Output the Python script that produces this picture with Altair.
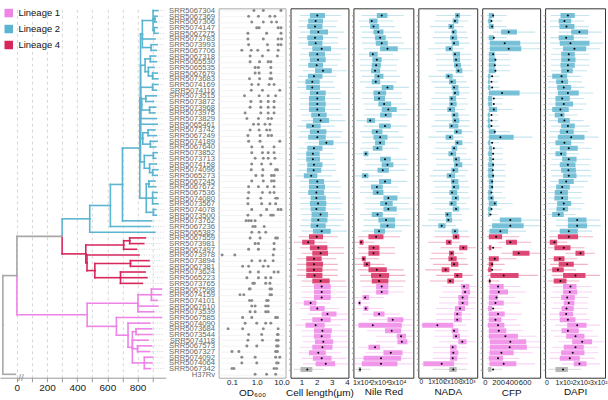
import altair as alt
import pandas as pd

# ---------------- data ----------------
strains = ["SRR5067304","SRR5067369","SRR5067306","SRR5074147","SRR5067275","SRR5073783","SRR5073993","SRR5067706","SRR5067318","SRR5065530",
           "SRR5065535","SRR5067679","SRR5073683","SRR5074169","SRR5074116","SRR5073515","SRR5073872","SRR5073968","SRR5073975","SRR5073829",
           "SRR5065461","SRR5073742","SRR5067249","SRR5074189","SRR5067640","SRR5073852","SRR5073713","SRR5074158","SRR5074096","SRR5065273",
           "SRR5067245","SRR5067672","SRR5067536","SRR5074080","SRR5073567","SRR5074078","SRR5073500","SRR5073762","SRR5067236","SRR5065382",
           "SRR5067559","SRR5073981","SRR5067497","SRR5073978","SRR5073894","SRR5067381","SRR5073624","SRR5065223","SRR5073765",
           "SRR5067598","SRR5074159","SRR5074101","SRR5067610","SRR5073539","SRR5067585","SRR5074090","SRR5073684","SRR5073544","SRR5074118",
           "SRR5067573","SRR5067327","SRR5074092","SRR5074064","SRR5067342","H37Rv"]
lineages = ["Lineage 2"] * 40 + ["Lineage 4"] * 9 + ["Lineage 1"] * 15 + ["H37Rv"]
rows = list(range(1, 66))

lin_names = ["Lineage 1", "Lineage 2", "Lineage 4", "H37Rv"]
lin_colors = ["#EE84E6", "#5CB5D0", "#D7265B", "#A8A8A8"]

# tree: tip distances of each leaf (row order) and nested internal nodes (distance, children)
tip_x = [935,930,925,930,935,915,930,925,920,925, 910,930,935,935,925,925,905,920,915,925,
         930,915,925,930,920,930,920,925,935,930, 915,920,930,925,935,920,925,892,885,915,
         852,841,793,810,876,880,850,862,832,
         958,955,930,934,907,958,881,892,895,870,892,880,900,895,885,
         -10]
blue_clade = (483, [(620, [(700, [(815, [
    (820, [
        (832, [(903, [1, (915, [2, 3]), (910, [4, 5])]), 6, (890, [7, 8])]),
        (850, [(885, [9, 10]), (872, [11, (900, [12, 13])])]),
        (900, [14, 15]),
        (828, [(855, [16, 17]), (880, [18, 19])]),
        20, 21,
        (835, [(870, [22, 23]), (885, [24, 25])]),
        (845, [(905, [26, 27]), (880, [28, (900, [29, 30])])]),
    ]),
    (858, [(875, [31, 32]), (900, [33, 34, 35]), (905, [36, 37])]),
]), 38]), 39]), 40])
red_clade = (457, [(708, [(748, [41, 42]), 43]),
                   (465, [44, (517, [(753, [45, 46]), (687, [47, 48, 49])])])])
pink_clade = (466, [(803, [(892, [50, 51, 52]), 53, 54]),
                    (660, [55, (737, [56, (766, [(790, [57, 58]), 59, (800, [60, 61]), (845, [62, 63, 64])])])])])
tree = (-93, [(0, [(300, [blue_clade, red_clade]), pink_clade]), 65])
tip_align = 975
break_mark = [28]

# OD600 replicate points
od_pts = [
    [0.77, 1.84, 9.5], [0.47, 1.17, 3.4, 5.4], [0.63, 1.84, 3.95, 6.3], [1.0, 1.25, 7.3, 9.5],
    [0.44, 2.5, 9.5], [0.44, 1.84, 7.3, 10.0], [0.47, 2.7, 7.3, 9.5], [0.25, 0.6, 1.1, 2.9, 7.3],
    [0.54, 1.7, 6.8], [0.54, 1.3, 2.9, 3.7], [0.86, 1.17, 3.7], [0.86, 1.25, 3.7],
    [0.51, 1.3, 3.4, 3.95], [0.63, 1.17, 3.15, 5.0], [0.6, 1.7, 8.5], [0.32, 1.25, 2.9, 5.8],
    [0.58, 1.46, 2.9, 5.0], [0.54, 1.46, 2.9, 5.0], [0.34, 1.46, 2.9, 5.0], [0.4, 1.17, 2.9, 3.95],
    [0.74, 1.17, 2.15, 3.4], [0.54, 1.25, 2.5, 3.4], [0.44, 1.36, 2.9, 3.95], [0.47, 1.36, 8.5],
    [0.63, 1.7, 5.0], [0.63, 1.7, 2.9, 5.0], [0.86, 1.84, 2.9, 5.4], [0.63, 1.58, 3.7],
    [0.6, 1.77, 5.8, 6.8], [0.92, 1.7, 3.95, 5.0], [0.63, 1.84, 3.95, 5.0], [0.47, 1.17, 2.7, 5.0],
    [0.47, 1.7, 3.4, 5.0], [0.44, 1.46, 5.8, 6.8], [0.44, 1.58, 3.4, 5.8], [0.63, 2.5, 7.3, 9.5],
    [0.44, 1.46, 3.7, 4.6], [0.37, 0.47, 0.6, 0.86], [0.7, 0.86, 2.0], [0.63, 1.25, 2.3],
    [0.54, 1.36, 5.8, 6.8], [0.86, 1.17, 5.0], [0.47, 1.17, 5.0], [0.04, 0.13, 4.6],
    [0.63, 1.36, 2.15, 4.6], [0.27, 0.47, 1.84, 2.9], [0.54, 1.17, 5.0, 7.3], [0.4, 1.17, 2.3, 3.7],
    [0.7, 0.8, 2.3, 3.4], [0.5, 0.54, 3.4, 3.95], [0.21, 0.3, 3.4, 3.95], [0.51, 0.63, 2.5, 2.9],
    [0.63, 0.86, 2.3, 2.9], [0.54, 0.86, 2.3, 2.9], [0.27, 0.63, 5.8, 6.8], [0.34, 1.0, 2.3, 3.7],
    [0.07, 0.27, 1.84, 7.3], [0.47, 1.58, 6.8, 7.3], [0.44, 1.7, 6.3, 7.3], [0.4, 1.0, 6.3, 7.3],
    [0.1, 0.19, 5.8, 6.8], [0.25, 0.86, 5.8, 8.5], [0.25, 1.0, 6.3, 7.3], [0.1, 0.12, 5.0, 6.3],
    [0.86, 2.5, 5.8],
]

# Cell length (um)
cell_lo = [0.9,0.8,0.8,0.9,0.8,0.8,1.0,0.9,0.9,0.8, 1.1,0.8,0.7,0.7,0.9,0.9,0.9,0.9,1.0,1.0,
           0.7,0.9,0.8,1.2,0.8,0.7,0.7,0.8,0.8,0.6, 0.9,0.9,0.8,0.9,0.9,0.9,1.0,1.0,0.9,1.0,
           0.8,0.5,0.9,1.0,0.7,0.7,0.7,0.7,1.0, 1.0,1.0,1.0,0.6,0.9,1.4,1.0,0.6,1.0,1.0,1.1,0.9,0.8,1.0,1.1, 0.5]
cell_q1 = [1.55,1.44,1.38,1.55,1.38,1.44,1.71,1.49,1.55,1.44, 1.89,1.42,1.26,1.31,1.55,1.49,1.49,1.49,1.64,1.75,
           1.31,1.55,1.44,2.15,1.38,1.31,1.31,1.38,1.35,1.15, 1.49,1.49,1.44,1.60,1.55,1.60,1.66,1.64,1.60,1.75,
           1.49,1.04,1.55,1.71,1.31,1.31,1.31,1.31,1.71, 1.82,1.82,1.82,1.15,1.55,2.33,1.71,1.26,1.82,1.82,1.89,1.71,1.49,1.75,1.93, 0.93]
cell_mean = [2.04,1.93,1.89,2.11,1.89,1.93,2.33,2.04,2.09,2.00, 2.42,1.82,1.71,1.71,2.04,2.04,2.04,2.04,2.15,2.26,
             1.75,2.09,2.04,2.64,1.82,1.75,1.75,1.82,1.80,1.64, 2.04,2.04,1.98,1.98,2.09,1.98,2.26,2.11,2.04,2.33,
             2.00,1.44,2.11,2.26,1.82,1.82,1.82,1.86,2.26, 2.33,2.33,2.33,1.60,2.04,2.71,2.33,1.93,2.38,2.33,2.44,2.38,2.11,2.33,2.60, 1.38]
cell_q3 = [2.55,2.42,2.38,2.75,2.42,2.38,2.95,2.55,2.60,2.42, 3.00,2.38,2.20,2.22,2.60,2.55,2.60,2.55,2.66,2.82,
           2.26,2.64,2.60,3.11,2.38,2.20,2.22,2.38,2.30,2.04, 2.49,2.55,2.49,2.60,2.64,2.60,2.75,2.71,2.60,2.93,
           2.42,1.86,2.71,2.75,2.33,2.42,2.38,2.38,2.86, 2.93,2.93,2.93,1.98,2.53,3.31,2.93,2.53,3.00,2.93,3.09,3.04,2.60,2.98,3.22, 1.71]
cell_hi = [3.6,3.4,3.3,3.8,3.4,3.4,4.0,3.6,3.6,3.4, 4.0,3.3,3.1,3.2,3.6,3.6,3.6,3.6,3.7,3.9,
           3.2,3.7,3.6,4.1,3.3,3.1,3.2,3.3,3.3,3.0, 3.5,3.6,3.5,3.6,3.7,3.6,3.8,3.8,3.6,4.0,
           3.4,2.7,3.8,3.8,3.3,3.4,3.4,3.4,3.9, 4.0,4.0,4.0,2.9,3.5,4.1,4.0,3.6,4.1,4.0,4.1,4.1,3.6,4.0,4.1, 2.5]

# Nile Red (x10^4)
nile_lo = [1.0,0.8,0.9,1.0,1.0,1.0,1.1,0.8,0.9,0.9, 0.9,1.0,0.9,1.2,1.0,1.0,1.1,1.2,1.1,0.7,
           1.1,0.9,1.0,1.0,0.9,0.6,1.1,1.2,1.0,0.6, 1.1,0.9,0.9,1.2,1.1,1.2,0.9,1.1,1.1,1.0,
           0.8,0.6,0.8,0.8,0.6,0.6,0.8,0.9,0.9, 1.0,1.0,0.6,0.55,0.6,1.0,1.4,0.55,1.3,1.8,1.8,0.8,1.2,0.6,0.55, 0.55]
nile_q1 = [1.86,1.42,1.48,1.67,1.76,1.80,2.05,1.42,1.61,1.57, 1.53,1.72,1.57,2.14,1.67,1.70,1.95,2.14,2.05,1.29,
           1.99,1.57,1.67,1.76,1.63,1.10,2.05,2.14,1.90,1.00, 1.99,1.53,1.63,2.24,2.05,2.24,1.57,1.95,2.05,1.70,
           1.38,0.87,1.38,1.38,1.00,1.10,1.38,1.53,1.57, 1.82,1.82,1.04,0.81,1.10,1.67,2.47,0.81,2.33,3.00,3.04,1.38,2.24,1.10,1.00, 0.81]
nile_mean = [2.14,1.57,1.67,1.95,2.05,2.14,2.47,1.63,1.86,1.82, 1.76,1.95,1.80,2.47,1.99,1.99,2.28,2.52,2.37,1.48,
             2.33,1.86,2.05,2.05,1.90,1.23,2.33,2.47,2.20,1.19, 2.33,1.86,1.90,2.52,2.39,2.52,1.90,2.39,2.47,1.99,
             1.82,0.96,1.67,1.67,1.10,1.29,1.86,2.05,1.99, 2.14,2.14,1.19,0.87,1.23,1.99,2.77,1.63,2.71,3.25,3.29,1.76,2.66,2.10,2.10, 0.90]
nile_q3 = [2.47,1.90,1.99,2.24,2.37,2.49,3.06,1.91,2.14,2.09, 2.05,2.24,2.05,2.81,2.39,2.33,2.68,3.00,2.71,1.76,
           2.66,2.18,2.47,2.33,2.18,1.38,2.66,2.81,2.55,1.38, 2.68,2.20,2.24,3.04,2.77,3.00,2.20,2.90,2.90,2.33,
           2.24,1.10,2.01,2.01,1.23,1.48,2.43,2.56,2.52, 2.52,2.52,1.42,0.94,1.38,2.30,3.38,3.29,3.25,3.53,3.61,2.05,3.33,3.25,3.04, 0.96]
nile_hi = [3.4,2.8,2.9,3.2,3.3,3.4,3.9,2.8,3.1,3.0, 3.0,3.2,3.0,3.7,3.3,3.3,3.6,3.9,3.6,2.6,
           3.6,3.1,3.4,3.3,3.1,2.1,3.6,3.7,3.5,2.2, 3.6,3.1,3.2,3.9,3.7,3.9,3.1,3.8,3.8,3.3,
           3.2,1.7,2.9,2.9,2.0,2.3,3.4,3.5,3.5, 3.4,3.4,2.3,1.5,2.2,3.2,3.9,3.9,3.9,3.9,3.9,2.9,3.9,3.9,3.9, 1.5]

# NADA (x10^3)
nada_lo = [1.0,0.9,0.6,0.9,0.8,0.9,0.5,0.9,1.0,1.0, 1.1,0.5,0.7,0.9,0.9,0.7,0.7,0.6,0.9,0.9,
           0.7,1.0,0.5,1.0,0.9,0.7,1.0,1.0,0.8,0.6, 0.8,0.9,0.7,0.9,0.7,0.9,0.5,0.5,0.1,0.9,
           0.9,0.5,1.3,0.7,0.6,0.8,0.3,1.0,0.6, 1.4,1.4,1.2,1.2,1.0,1.0,1.0,0.0,0.9,0.9,1.2,0.8,0.8,0.8,0.0, 0.8]
nada_q1 = [2.24,2.09,1.81,2.02,1.92,2.02,1.63,2.09,2.13,2.18, 2.29,1.63,1.85,2.02,2.09,1.87,1.87,1.74,2.02,2.07,
           1.85,2.18,1.63,2.24,2.02,1.81,2.13,2.18,2.00,1.70, 1.98,2.02,1.87,2.02,1.87,2.09,1.59,1.65,1.15,2.02,
           2.09,1.65,2.52,1.85,1.81,1.98,1.37,2.18,1.74, 2.63,2.68,2.46,2.46,2.24,2.18,2.18,0.10,2.02,2.09,2.46,1.92,1.92,1.92,0.17, 1.87]
nada_mean = [2.40,2.24,1.98,2.13,2.09,2.18,1.92,2.24,2.31,2.35, 2.46,1.81,2.02,2.18,2.24,2.02,2.02,1.92,2.18,2.24,
             2.02,2.35,1.92,2.40,2.18,2.02,2.31,2.35,2.15,1.92, 2.13,2.18,2.05,2.30,2.02,2.31,1.74,1.81,1.37,2.24,
             2.31,1.87,2.79,2.02,2.02,2.18,1.63,2.39,1.92, 2.83,2.90,2.74,2.74,2.57,2.39,2.39,1.09,2.18,2.31,2.72,2.09,2.13,2.09,1.37, 2.13]
nada_q3 = [2.57,2.46,2.18,2.35,2.39,2.50,2.09,2.57,2.57,2.63, 2.72,2.09,2.31,2.46,2.52,2.31,2.35,2.24,2.46,2.52,
           2.46,2.68,2.13,2.72,2.39,2.31,2.57,2.72,2.45,2.24, 2.46,2.52,2.39,2.50,2.35,2.52,2.02,2.05,1.63,2.46,
           2.52,2.02,3.05,2.18,2.35,2.46,1.87,2.72,2.18, 3.18,3.22,3.11,3.11,2.90,2.68,2.68,2.13,2.46,2.57,3.00,2.35,2.46,2.39,2.18, 2.35]
nada_hi = [3.3,3.1,2.8,3.0,3.1,3.2,2.8,3.3,3.3,3.3, 3.4,2.8,3.0,3.2,3.2,3.0,3.1,2.9,3.2,3.2,
           3.2,3.4,2.8,3.4,3.0,3.0,3.3,3.4,3.1,2.9, 3.1,3.2,3.1,3.2,3.0,3.2,2.7,2.7,2.3,3.1,
           3.2,2.6,3.6,2.8,3.0,3.1,2.5,3.4,2.8, 3.6,3.6,3.6,3.6,3.5,3.3,3.3,3.0,3.1,3.2,3.6,3.0,3.1,3.0,3.1, 3.0]

# CFP
cfp_lo = [30,25,30,120,30,35,35,30,30,30, 30,25,25,25,30,25,25,30,20,20,
          20,30,30,25,30,25,30,25,25,25, 30,30,25,25,30,25,25,110,50,35,
          30,200,30,250,30,30,25,40,30, 35,35,30,30,25,30,30,20,30,30,35,35,35,30,35, 25]
cfp_q1 = [60,50,60,245,60,75,75,60,60,60, 60,50,50,50,60,50,50,60,45,45,
          45,60,60,50,60,50,60,50,50,50, 60,60,50,50,60,50,50,225,110,70,
          60,320,60,420,60,60,50,85,60, 70,70,60,60,50,60,60,45,60,60,75,75,70,60,70, 50]
cfp_mean = [125,100,110,360,135,300,360,125,160,150, 160,110,100,110,260,135,135,135,100,100,
            100,150,235,110,135,125,125,125,120,125, 110,110,100,100,150,100,85,385,385,235,
            170,385,125,510,150,110,110,285,75, 200,210,175,160,125,200,160,200,210,310,385,375,250,200,285, 125]
cfp_q3 = [135,100,135,485,135,535,550,150,160,160, 160,85,75,85,525,110,110,185,75,75,
          85,160,435,85,110,110,110,135,120,135, 125,125,100,135,185,100,75,550,585,350,
          260,485,100,675,210,125,100,510,85, 285,350,200,285,110,300,250,295,325,500,625,635,435,275,475, 100]
cfp_hi = [330,260,330,760,330,830,830,360,380,380, 380,220,200,220,830,270,270,420,200,200,
          220,380,720,220,270,270,270,320,300,320, 300,300,260,320,420,260,200,830,830,620,
          520,700,260,835,480,300,260,800,220, 540,620,460,540,270,560,480,540,580,780,835,835,720,520,760, 260]

# DAPI
dapi_lo = [25,20,20,70,20,20,35,25,25,25, 25,5,10,10,15,10,10,5,10,15,
           25,20,15,10,20,10,30,20,25,30, 20,10,10,10,10,10,5,55,55,20,
           15,0,10,110,10,20,5,30,10, 35,35,25,40,30,20,20,50,25,45,70,35,20,20,90, 10]
dapi_q1 = [81,71,75,143,71,77,96,85,85,81, 85,33,56,62,66,52,52,33,48,66,
           85,77,66,52,77,52,91,77,85,96, 71,56,48,46,62,58,33,124,124,77,
           66,19,46,168,42,71,33,96,42, 96,96,85,100,87,75,77,120,87,114,149,100,85,77,158, 52]
dapi_mean = [124,104,116,191,114,139,162,129,129,124, 124,87,91,100,124,91,100,81,87,104,
             124,120,143,104,129,85,129,124,127,129, 114,91,85,91,100,100,71,178,178,129,
             129,46,100,197,77,120,66,168,81, 139,135,120,129,116,114,124,178,124,168,207,168,152,135,191, 96]
dapi_q3 = [164,143,162,241,158,249,230,164,168,164, 152,120,125,143,187,135,154,129,104,135,
           164,158,220,143,181,116,174,168,170,174, 158,135,124,125,143,125,100,232,235,181,
           183,62,139,220,104,158,100,226,116, 174,178,164,162,158,154,168,232,187,220,264,216,220,193,232, 124]
dapi_hi = [250,220,245,320,240,330,310,250,250,250, 235,200,205,220,270,215,235,210,180,215,
           250,240,300,220,260,190,260,250,255,260, 240,215,205,205,220,205,170,310,315,265,
           270,120,220,280,180,240,170,310,190, 260,265,245,240,240,235,250,310,270,300,335,300,300,280,310, 200]

# ---------------- build tree segments ----------------
segs = []


def walk(node):
    if isinstance(node, int):
        return float(node), [node]
    nx, kids = node
    info = [walk(k) for k in kids]
    ys = [i[0] for i in info]
    ny = (min(ys) + max(ys)) / 2
    leaves = []
    for k, (ky, kl) in zip(kids, info):
        leaves += kl
        kx = tip_x[k - 1] if isinstance(k, int) else k[0]
        lins = {lineages[l - 1] for l in kl}
        col = lins.pop() if len(lins) == 1 else "H37Rv"
        segs.append(dict(x=nx, x2=nx, y=ny, y2=ky, lin=col))
        segs.append(dict(x=nx, x2=kx, y=ky, y2=ky, lin=col))
    return ny, leaves


walk(tree)
seg_df = pd.DataFrame(segs)
dot_df = pd.DataFrame({"x": tip_x[:64], "x2": [tip_align] * 64, "y": rows[:64]})
brk_df = pd.DataFrame({"x": break_mark, "y": [65.6]})

FONT = "Liberation Sans"
H = 370
yscale = alt.Scale(domain=[0.6, 65.6], reverse=True, nice=False, zero=False)
color_scale = alt.Scale(domain=lin_names, range=lin_colors)

tree_x = alt.Scale(domain=[-112, 987], nice=False, zero=False)
tree_ax = alt.Axis(values=list(range(0, 1000, 100)),
                   labelExpr="datum.value % 200 == 0 ? datum.label : ''",
                   grid=True, gridDash=[3, 3], gridColor="#d6d6d6", domainColor="#999",
                   tickColor="#999", tickSize=4, labelFontSize=10, labelPadding=1,
                   labelColor="#222", labelFlush=False, title=None)
dotted = alt.Chart(dot_df).mark_rule(strokeDash=[1, 1.5], strokeWidth=0.7, color="#c4c4c4").encode(
    x=alt.X("x:Q", scale=tree_x, axis=tree_ax),
    x2="x2:Q",
    y=alt.Y("y:Q", scale=yscale, axis=None),
)
branches = alt.Chart(seg_df).mark_rule(strokeWidth=1.6, strokeCap="square").encode(
    x=alt.X("x:Q", scale=tree_x, axis=tree_ax), x2="x2:Q", y=alt.Y("y:Q", scale=yscale, axis=None), y2="y2:Q",
    color=alt.Color("lin:N", scale=color_scale,
                    legend=alt.Legend(title=None, orient="none", legendX=4, legendY=0,
                                      values=["Lineage 1", "Lineage 2", "Lineage 4"],
                                      symbolType="square", symbolSize=16, symbolStrokeWidth=4.5,
                                      labelFontSize=9.5, labelColor="#111", labelOffset=5,
                                      rowPadding=-9.5, padding=0)),
)
brk = alt.Chart(brk_df).mark_text(text="//", fontSize=10, color="#888").encode(
    x=alt.X("x:Q", scale=tree_x, axis=tree_ax), y=alt.Y("y:Q", scale=yscale, axis=None))
tree_chart = alt.layer(dotted, branches, brk).properties(
    width=166, height=H, view=alt.ViewBackground(strokeOpacity=0))

# ---------------- OD panel ----------------
od_df = pd.DataFrame([{"row": i + 1, "od": v} for i, vals in enumerate(od_pts) for v in vals])
name_expr = "[" + ",".join("'" + s + "'" for s in strains) + "][datum.value - 1]"
od_chart = alt.Chart(od_df).mark_circle(size=9, color="#8a8a8a", opacity=1).encode(
    x=alt.X("od:Q", scale=alt.Scale(type="log", domain=[0.029, 14.5], nice=False),
            axis=alt.Axis(values=[0.1, 1, 10], labelExpr="format(datum.value, '.1f')", title="OD₆₀₀",
                          ticks=False, grid=False, domain=False, labelPadding=1, titlePadding=1,
                          labelFontSize=8, labelFlush=False, labelOverlap=False)),
    y=alt.Y("row:Q", scale=yscale,
            axis=alt.Axis(values=rows, labelExpr=name_expr, ticks=False, domain=False, grid=True,
                          gridColor="#eeeeee", gridWidth=0.7, labelFontSize=7.7, labelColor="#666",
                          labelPadding=4, labelOverlap=False, labelFlush=False, title=None)),
).properties(width=67, height=H, view=alt.ViewBackground(stroke="#aaaaaa"))


# ---------------- box panels ----------------
def box_panel(lo, q1, mean, q3, hi, dom, ticks, lab_expr, title, width, lab_size):
    df = pd.DataFrame({"row": rows, "lin": lineages, "lo": lo, "q1": q1, "mean": mean, "q3": q3, "hi": hi})
    xs = alt.Scale(domain=dom, nice=False, zero=False)
    ax = alt.Axis(values=ticks, labelExpr=lab_expr, title=title, ticks=False, grid=False, domain=False,
                  labelPadding=1, titlePadding=1, labelFlush=False, labelOverlap=False, labelBound=False,
                  labelSeparation=0, labelFontSize=lab_size)
    yax = alt.Axis(values=rows, labels=False, ticks=True, tickSize=2, tickColor="#999", domain=False,
                   grid=False, title=None)
    base = alt.Chart(df)
    col = alt.Color("lin:N", scale=color_scale, legend=None)
    whisk = base.mark_rule(strokeWidth=1.1, opacity=0.35, clip=True).encode(
        x=alt.X("lo:Q", scale=xs, axis=ax), x2="hi:Q", y=alt.Y("row:Q", scale=yscale, axis=yax), color=col)
    box = base.mark_bar(size=5, orient="horizontal", opacity=0.82, clip=True).encode(
        x=alt.X("q1:Q", scale=xs, axis=ax), x2="q3:Q", y=alt.Y("row:Q", scale=yscale, axis=yax), color=col)
    dot = base.mark_circle(size=4, color="black", opacity=1, clip=True).encode(
        x=alt.X("mean:Q", scale=xs, axis=ax), y=alt.Y("row:Q", scale=yscale, axis=yax))
    return alt.layer(whisk, box, dot).properties(width=width, height=H)


cell_chart = box_panel(cell_lo, cell_q1, cell_mean, cell_q3, cell_hi, [0.27, 4.1], [1, 2, 3, 4],
                       "datum.label", "Cell length(μm)", 58, 8)
nile_chart = box_panel(nile_lo, nile_q1, nile_mean, nile_q3, nile_hi, [0.52, 3.95], [1, 2, 3],
                       "datum.value + 'x10⁴'", "Nile Red", 60, 7.2)
nada_chart = box_panel(nada_lo, nada_q1, nada_mean, nada_q3, nada_hi, [-0.157, 3.693], [0, 1, 2, 3],
                       "datum.value == 0 ? '0' : datum.value + 'x10³'", "NADA", 59, 6.6)
cfp_chart = box_panel(cfp_lo, cfp_q1, cfp_mean, cfp_q3, cfp_hi, [-40, 835], [0, 200, 400, 600],
                      "datum.label", "CFP", 58, 7.6)
dapi_chart = box_panel(dapi_lo, dapi_q1, dapi_mean, dapi_q3, dapi_hi, [-8, 339], [0, 100, 200, 300],
                       "datum.value == 0 ? '0' : (datum.value / 100) + 'x10²'", "DAPI", 60, 7.0)

panels = alt.hconcat(od_chart, cell_chart, nile_chart, nada_chart, cfp_chart, dapi_chart,
                     spacing=5, bounds="flush")
chart = alt.hconcat(tree_chart, panels, spacing=53, bounds="flush").resolve_scale(
    color="independent"
).properties(
    padding={"left": 0, "top": 5, "right": 0, "bottom": 0}
).configure(font=FONT).configure_view(
    stroke="#333333", strokeWidth=1
).configure_axis(
    labelFontSize=8, titleFontSize=10, titleFontWeight="normal", labelColor="#222", titleColor="#111",
    labelOverlap=False
)

chart.save("out.html", embed_options={"renderer": "svg", "actions": False})
